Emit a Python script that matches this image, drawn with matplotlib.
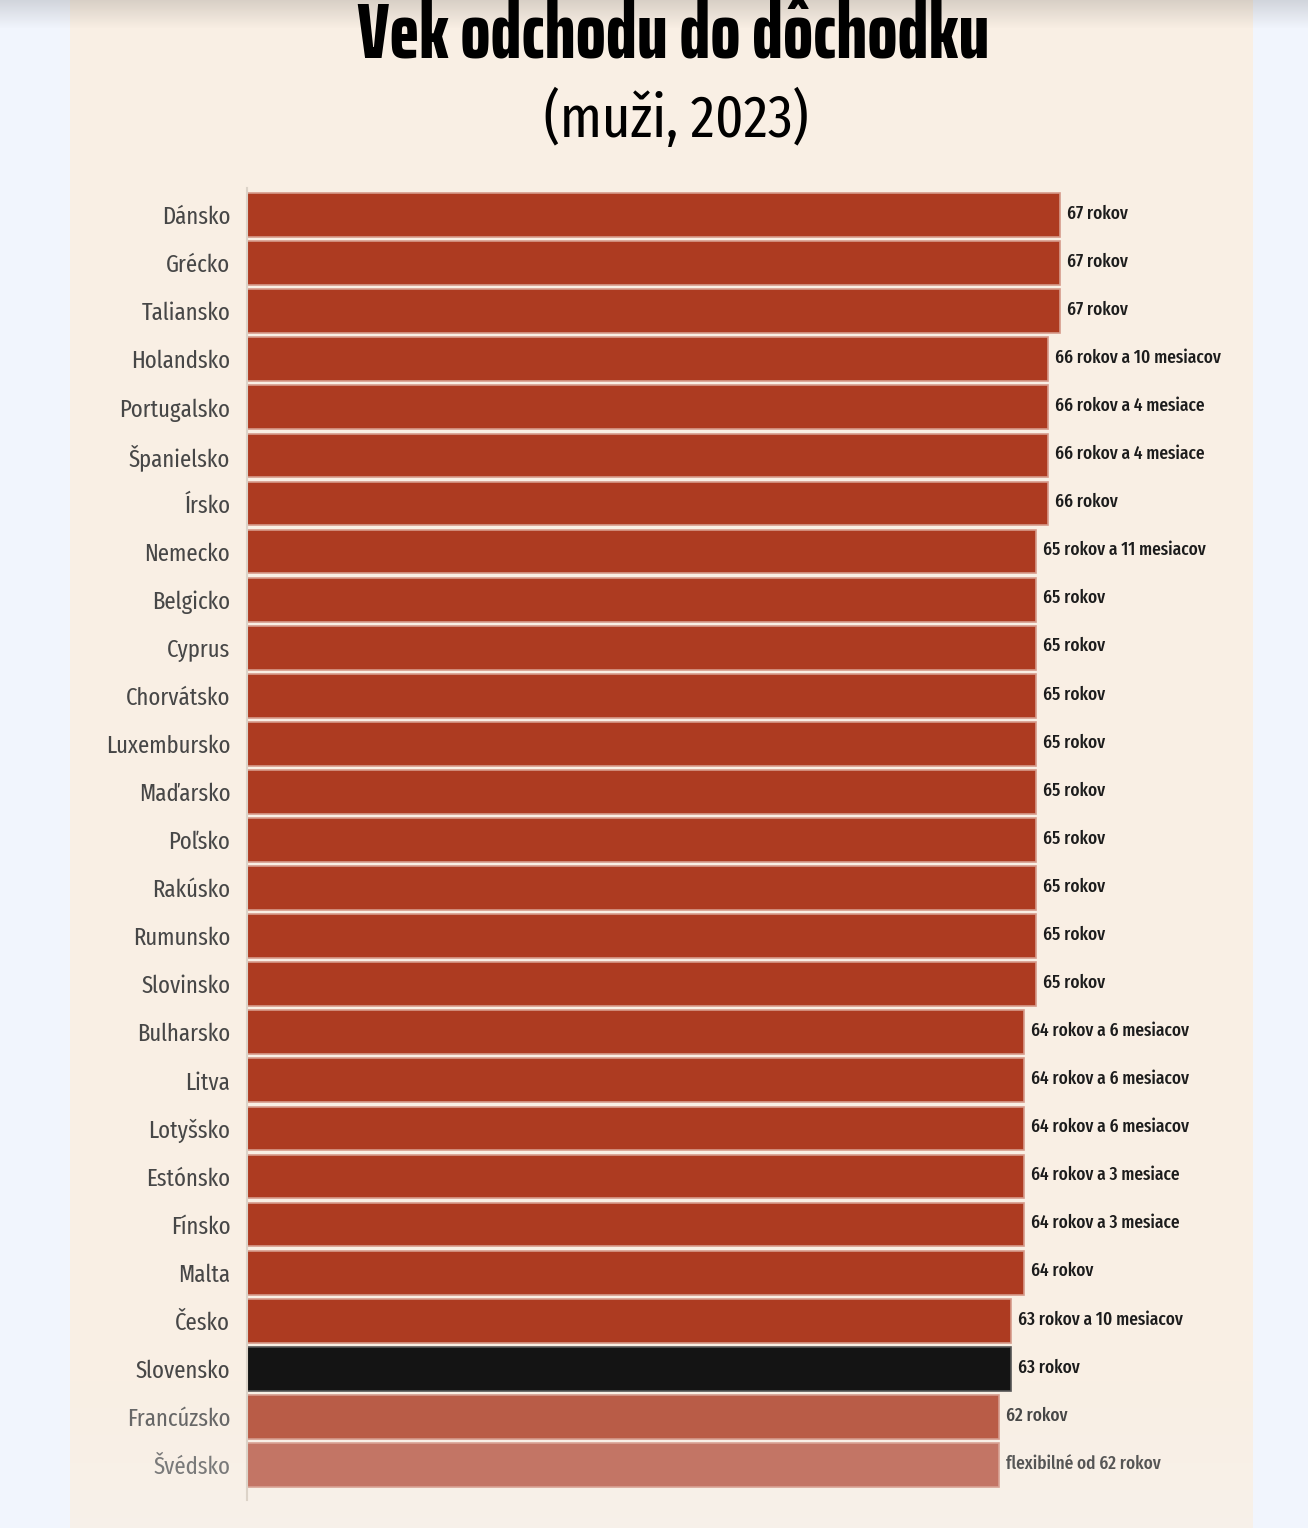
import numpy as np
import matplotlib
matplotlib.use("Agg")
import matplotlib.pyplot as plt
from matplotlib.lines import Line2D

# data
countries = ["Dánsko", "Grécko", "Taliansko", "Holandsko", "Portugalsko", "Španielsko",
             "Írsko", "Nemecko", "Belgicko", "Cyprus", "Chorvátsko", "Luxembursko",
             "Maďarsko", "Poľsko", "Rakúsko", "Rumunsko", "Slovinsko", "Bulharsko",
             "Litva", "Lotyšsko", "Estónsko", "Fínsko", "Malta", "Česko", "Slovensko",
             "Francúzsko", "Švédsko"]
years = [67, 67, 67, 66, 66, 66, 66, 65, 65, 65, 65, 65, 65, 65, 65, 65, 65,
         64, 64, 64, 64, 64, 64, 63, 63, 62, 62]
value_labels = ["67 rokov", "67 rokov", "67 rokov", "66 rokov a 10 mesiacov",
                "66 rokov a 4 mesiace", "66 rokov a 4 mesiace", "66 rokov",
                "65 rokov a 11 mesiacov", "65 rokov", "65 rokov", "65 rokov", "65 rokov",
                "65 rokov", "65 rokov", "65 rokov", "65 rokov", "65 rokov",
                "64 rokov a 6 mesiacov", "64 rokov a 6 mesiacov", "64 rokov a 6 mesiacov",
                "64 rokov a 3 mesiace", "64 rokov a 3 mesiace", "64 rokov",
                "63 rokov a 10 mesiacov", "63 rokov", "62 rokov", "flexibilné od 62 rokov"]

FONT = "Fira Sans Extra Condensed"
TITLE_FONT = "Saira ExtraCondensed"
W, H = 1308, 1528

bar_colors = ["#ad3b21"] * 24 + ["#141414", "#b95c47", "#c37565"]
edge_colors = ["#d69a8a"] * 24 + ["#555555", "#d49a8c", "#d8a294"]
name_colors = ["#474747"] * 25 + ["#676767", "#7a7a7a"]
val_colors = ["#1c1c1c"] * 25 + ["#474747", "#555555"]

fig = plt.figure(figsize=(W / 100, H / 100), dpi=100)
fig.patch.set_facecolor("#f1f5fd")

# background: beige panel with a soft shadow at the top and fade at the bottom
bg = fig.add_axes([0, 0, 1, 1], zorder=-10)
img = np.ones((H, W, 3))
img[:, :] = np.array([241, 245, 253]) / 255
img[:, 70:1253] = np.array([249, 239, 228]) / 255
rows = np.arange(H)
shade = np.clip(1 - rows / 28, 0, 1)[:, None, None]
img = img * (1 - 0.13 * shade)
fade = np.clip((rows - 1380) / 148, 0, 1)[:, None, None]
panel = img[:, 70:1253]
img[:, 70:1253] = panel * (1 - 0.45 * fade) + np.array([246, 243, 240]) / 255 * 0.45 * fade
bg.imshow(img, aspect="auto", extent=[0, 1, 0, 1])
bg.axis("off")

ax = fig.add_axes([247 / W, 1 - 1489 / H, 1000 / W, 1298 / H])
ax.set_facecolor("none")
y = np.arange(len(countries))
ax.barh(y, years, height=0.91, color=bar_colors, edgecolor=edge_colors, linewidth=1.2)
ax.set_xlim(0, 1000 / 12.134)
ax.set_ylim(len(countries) - 0.5, -0.5)

ax.set_yticks(y)
ax.set_yticklabels(countries, family=FONT, fontsize=17.8)
for lab, c in zip(ax.get_yticklabels(), name_colors):
    lab.set_color(c)
ax.tick_params(axis="y", length=0, pad=12)
ax.set_xticks([])
for s in ax.spines.values():
    s.set_visible(False)

for yi, v, txt, c in zip(y, years, value_labels, val_colors):
    ax.annotate(txt, (v, yi), xytext=(5, 1), textcoords="offset points",
                va="center", ha="left", family=FONT, fontsize=13.5,
                fontweight="medium", color=c)

fig.add_artist(Line2D([247 / W, 247 / W], [1 - 188 / H, 1 - 1500 / H],
                      transform=fig.transFigure, color="#dcd3c8", lw=1.5))

fig.text(673 / W, 1 - 57 / H, "Vek odchodu do dôchodku", ha="center", va="baseline",
         family=TITLE_FONT, fontsize=57, fontweight=800, color="#000000")
fig.text(676 / W, 1 - 137 / H, "(muži, 2023)", ha="center", va="baseline",
         family=FONT, fontsize=43, fontweight="normal", color="#000000")

fig.savefig("out.png", dpi=100)
